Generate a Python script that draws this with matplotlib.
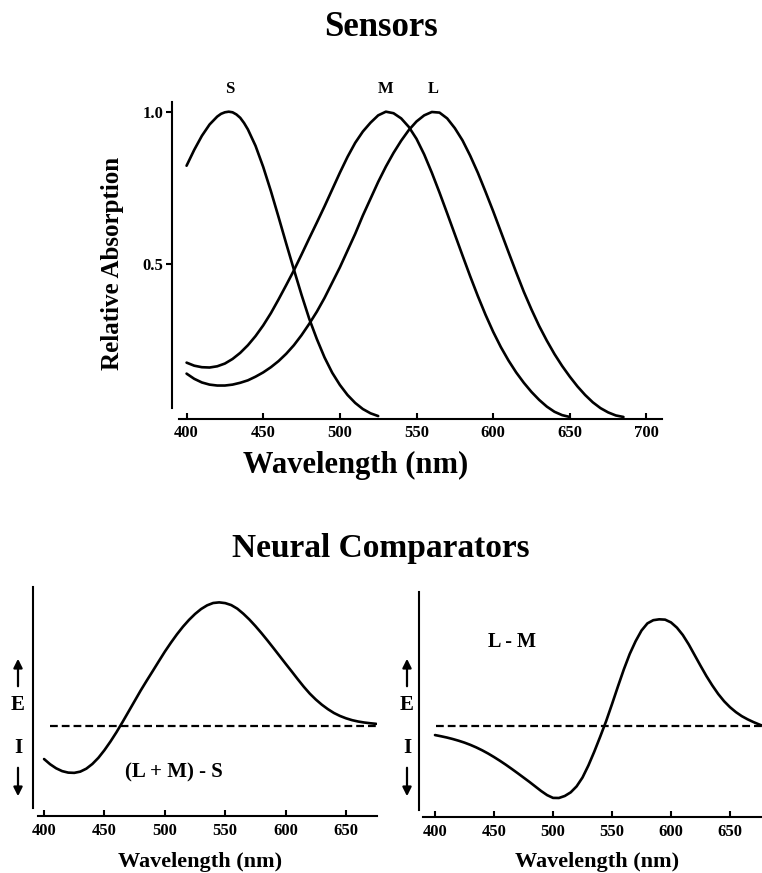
import matplotlib
matplotlib.use("Agg")
import matplotlib.pyplot as plt
from matplotlib.patches import FancyArrowPatch

# ---------------- data ----------------
s_wl = [400, 405, 410, 415, 420, 422.5, 425, 427.5, 430, 432.5, 435, 437.5, 440, 445,
        450, 455, 460, 465, 470, 475, 480, 485, 490, 495, 500, 505, 510, 515, 520, 525]
s_abs = [0.823, 0.875, 0.921, 0.958, 0.984, 0.993, 0.998, 1.000, 0.998, 0.991, 0.980,
         0.963, 0.942, 0.888, 0.819, 0.740, 0.655, 0.568, 0.483, 0.400, 0.322, 0.255,
         0.195, 0.145, 0.105, 0.072, 0.046, 0.026, 0.012, 0.003]

m_wl = [400, 405, 410, 415, 420, 425, 430, 435, 440, 445, 450, 455, 460, 465, 470,
        475, 480, 485, 490, 495, 500, 505, 510, 515, 520, 525, 530, 535, 540, 545,
        550, 555, 560, 565, 570, 575, 580, 585, 590, 595, 600, 605, 610, 615, 620,
        625, 630, 635, 640, 645, 650]
m_abs = [0.178, 0.168, 0.163, 0.162, 0.166, 0.175, 0.190, 0.210, 0.235, 0.265, 0.300,
         0.340, 0.385, 0.432, 0.480, 0.532, 0.585, 0.637, 0.690, 0.745, 0.800, 0.852,
         0.898, 0.935, 0.964, 0.988, 1.000, 0.995, 0.978, 0.950, 0.911, 0.860, 0.800,
         0.735, 0.667, 0.598, 0.529, 0.461, 0.396, 0.335, 0.279, 0.229, 0.185, 0.146,
         0.112, 0.082, 0.056, 0.034, 0.017, 0.006, 0.000]

l_wl = [400, 405, 410, 415, 420, 425, 430, 435, 440, 445, 450, 455, 460, 465, 470,
        475, 480, 485, 490, 495, 500, 505, 510, 515, 520, 525, 530, 535, 540, 545,
        550, 555, 560, 565, 570, 575, 580, 585, 590, 595, 600, 605, 610, 615, 620,
        625, 630, 635, 640, 645, 650, 655, 660, 665, 670, 675, 680, 685]
l_abs = [0.142, 0.125, 0.113, 0.106, 0.103, 0.103, 0.106, 0.112, 0.120, 0.132, 0.146,
         0.163, 0.183, 0.207, 0.235, 0.268, 0.305, 0.345, 0.390, 0.440, 0.490, 0.545,
         0.600, 0.660, 0.715, 0.770, 0.820, 0.865, 0.905, 0.940, 0.968, 0.988, 0.999,
         0.997, 0.978, 0.946, 0.906, 0.856, 0.800, 0.738, 0.674, 0.607, 0.540, 0.474,
         0.410, 0.352, 0.298, 0.250, 0.206, 0.167, 0.132, 0.100, 0.072, 0.048, 0.029,
         0.015, 0.005, 0.000]

lms_wl = [400, 405, 410, 415, 420, 425, 430, 435, 440, 445, 450, 455, 460, 465, 470,
          475, 480, 485, 490, 495, 500, 505, 510, 515, 520, 525, 530, 535, 540, 545,
          550, 555, 560, 565, 570, 575, 580, 585, 590, 595, 600, 605, 610, 615, 620,
          625, 630, 635, 640, 645, 650, 655, 660, 665, 670, 675]
lms_resp = [-0.270, -0.312, -0.345, -0.368, -0.380, -0.382, -0.372, -0.348, -0.310,
            -0.260, -0.198, -0.128, -0.052, 0.030, 0.115, 0.200, 0.285, 0.365, 0.443,
            0.522, 0.600, 0.672, 0.740, 0.802, 0.857, 0.905, 0.945, 0.975, 0.994,
            0.999, 0.993, 0.977, 0.948, 0.907, 0.860, 0.807, 0.750, 0.690, 0.628,
            0.565, 0.502, 0.440, 0.377, 0.316, 0.260, 0.212, 0.170, 0.134, 0.103,
            0.079, 0.060, 0.045, 0.034, 0.026, 0.020, 0.015]

lm_wl = [400, 405, 410, 415, 420, 425, 430, 435, 440, 445, 450, 455, 460, 465, 470,
         475, 480, 485, 490, 495, 500, 505, 510, 515, 520, 525, 530, 535, 540, 545,
         550, 555, 560, 565, 570, 575, 580, 585, 590, 595, 600, 605, 610, 615, 620,
         625, 630, 635, 640, 645, 650, 655, 660, 665, 670, 675, 677]
lm_resp = [-0.085, -0.096, -0.108, -0.122, -0.138, -0.156, -0.177, -0.201, -0.228,
           -0.258, -0.291, -0.326, -0.363, -0.402, -0.442, -0.483, -0.524, -0.567,
           -0.610, -0.648, -0.674, -0.675, -0.656, -0.622, -0.566, -0.483, -0.370,
           -0.240, -0.100, 0.045, 0.205, 0.370, 0.530, 0.675, 0.795, 0.895, 0.962,
           0.992, 1.000, 0.997, 0.971, 0.922, 0.853, 0.765, 0.665, 0.565, 0.468,
           0.380, 0.300, 0.232, 0.176, 0.130, 0.092, 0.062, 0.036, 0.013, 0.005]

top_xticks = [400, 450, 500, 550, 600, 650, 700]
top_yticks = [0.5, 1.0]
top_ytick_labels = ["0.5", "1.0"]
bottom_xticks = [400, 450, 500, 550, 600, 650]
sensor_labels = ["S", "M", "L"]
sensor_label_x = [428, 530, 561]

# ---------------- style ----------------
W, H = 762, 873
plt.rcParams["font.family"] = ["Liberation Serif", "DejaVu Serif"]
plt.rcParams["font.weight"] = "bold"
LW = 1.9
SPW = 1.5
line_kw = dict(color="black", lw=LW, solid_capstyle="round", solid_joinstyle="round")

fig = plt.figure(figsize=(W / 100, H / 100), dpi=100)


def fx(x):
    return x / W


def fy(y):
    return 1 - y / H


def style_axes(ax):
    for side in ["top", "right"]:
        ax.spines[side].set_visible(False)
    for side in ["left", "bottom"]:
        ax.spines[side].set_linewidth(SPW)
    for lab in ax.get_xticklabels() + ax.get_yticklabels():
        lab.set_fontweight("bold")


# ---- top: Sensors ----
ax1 = fig.add_axes([fx(172), fy(418.5), fx(661.8) - fx(172), fy(101) - fy(418.5)])
ax1.plot(s_wl, s_abs, **line_kw)
ax1.plot(m_wl, m_abs, **line_kw)
ax1.plot(l_wl, l_abs, **line_kw)
ax1.set_xlim(390.5, 710)
ax1.set_ylim(-0.005, 1.035)
ax1.spines["bottom"].set_bounds(395, 710)
ax1.spines["left"].set_bounds(0.028, 1.033)
ax1.set_xticks(top_xticks)
ax1.set_yticks(top_yticks)
ax1.set_yticklabels(top_ytick_labels)
ax1.tick_params(axis="x", direction="in", length=4, width=SPW, labelsize=12, pad=5)
ax1.tick_params(axis="y", direction="out", length=4, width=SPW, labelsize=12, pad=2)
style_axes(ax1)
for lab, xv in zip(sensor_labels, sensor_label_x):
    ax1.text(xv, 1.075, lab, ha="center", va="center", fontsize=12, fontweight="bold",
             clip_on=False)

fig.text(fx(381), fy(28), "Sensors", ha="center", va="center", fontsize=25, fontweight="bold")
fig.text(fx(113), fy(263), "Relative Absorption", ha="center", va="center", rotation=90,
         fontsize=18, fontweight="bold")
fig.text(fx(356), fy(465), "Wavelength (nm)", ha="center", va="center", fontsize=22,
         fontweight="bold")

# ---- title for bottom ----
fig.text(fx(381), fy(548), "Neural Comparators", ha="center", va="center", fontsize=24,
         fontweight="bold")

# ---- bottom left: (L+M)-S ----
ax2 = fig.add_axes([fx(32.7), fy(815.7), fx(376.7) - fx(32.7), fy(586.7) - fy(815.7)])
ax2.plot(lms_wl, lms_resp, **line_kw)
ax2.plot([405, 675], [0, 0], color="black", lw=1.6, linestyle=(0, (3.5, 1.8)))
ax2.set_xlim(390.6, 675.4)
ax2.set_ylim(-0.729, 1.126)
ax2.spines["bottom"].set_bounds(395, 675.4)
ax2.spines["left"].set_bounds(-0.667, 1.126)
ax2.set_xticks(bottom_xticks)
ax2.set_yticks([])
ax2.tick_params(axis="x", direction="in", length=4, width=SPW, labelsize=12, pad=5)
style_axes(ax2)
ax2.text(507.5, -0.375, "(L + M) - S", ha="center", va="center", fontsize=15,
         fontweight="bold")

# ---- bottom right: L-M ----
ax3 = fig.add_axes([fx(419.3), fy(817.3), fx(762) - fx(419.3), fy(591.7) - fy(817.3)])
ax3.plot(lm_wl, lm_resp, **line_kw)
ax3.plot([401, 677], [0, 0], color="black", lw=1.6, linestyle=(0, (3.5, 1.8)))
ax3.set_xlim(386.7, 677.1)
ax3.set_ylim(-0.856, 1.259)
ax3.spines["bottom"].set_bounds(389.6, 677.1)
ax3.spines["left"].set_bounds(-0.787, 1.259)
ax3.set_xticks(bottom_xticks)
ax3.set_yticks([])
ax3.tick_params(axis="x", direction="in", length=4, width=SPW, labelsize=12, pad=5)
style_axes(ax3)
ax3.text(465, 0.79, "L - M", ha="center", va="center", fontsize=14.5, fontweight="bold")

fig.text(fx(200), fy(862), "Wavelength (nm)", ha="center", va="center", fontsize=16,
         fontweight="bold")
fig.text(fx(597), fy(862), "Wavelength (nm)", ha="center", va="center", fontsize=16,
         fontweight="bold")

# ---- E / I arrows ----
for ex in [18, 407]:
    fig.text(fx(ex), fy(705), "E", ha="center", va="center", fontsize=15, fontweight="bold")
    fig.text(fx(ex), fy(748), "I", ha="center", va="center", fontsize=15, fontweight="bold")
    fig.patches.append(FancyArrowPatch(
        (fx(ex), fy(689)), (fx(ex), fy(656)), transform=fig.transFigure,
        arrowstyle="-|>", mutation_scale=13, lw=1.6, color="black"))
    fig.patches.append(FancyArrowPatch(
        (fx(ex), fy(765)), (fx(ex), fy(799)), transform=fig.transFigure,
        arrowstyle="-|>", mutation_scale=13, lw=1.6, color="black"))

fig.savefig("out.png", dpi=100, facecolor="white")
